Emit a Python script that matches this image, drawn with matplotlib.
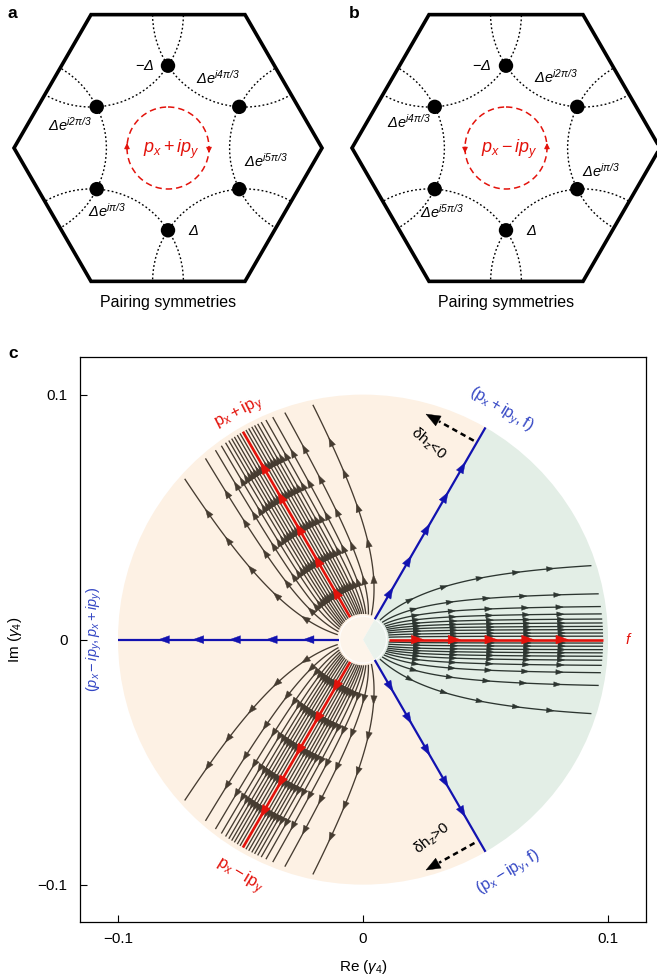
import numpy as np
import matplotlib
matplotlib.use('Agg')
import matplotlib.pyplot as plt
from matplotlib.patches import Wedge, Circle, Polygon
from matplotlib.collections import PolyCollection, LineCollection

plt.rcParams['font.family'] = ['Liberation Sans', 'DejaVu Sans']
plt.rcParams['mathtext.fontset'] = 'custom'
plt.rcParams['mathtext.rm'] = 'Liberation Sans'
plt.rcParams['mathtext.it'] = 'Liberation Sans:italic'
plt.rcParams['mathtext.bf'] = 'Liberation Sans:bold'
plt.rcParams['mathtext.sf'] = 'Liberation Sans:italic'

# ---------------- data ----------------
# panels a/b : pairing phases at the six Fermi-pocket crossings (angles in degrees)
DOT_ANGLES = [90, 30, -30, -90, -150, 150]
LABELS_A = [r'$-\mathsf{\Delta}$', r'$\mathsf{\Delta e^{i4\pi/3}}$', r'$\mathsf{\Delta e^{i5\pi/3}}$',
            r'$\mathsf{\Delta}$', r'$\mathsf{\Delta e^{i\pi/3}}$', r'$\mathsf{\Delta e^{i2\pi/3}}$']
LABELS_B = [r'$-\mathsf{\Delta}$', r'$\mathsf{\Delta e^{i2\pi/3}}$', r'$\mathsf{\Delta e^{i\pi/3}}$',
            r'$\mathsf{\Delta}$', r'$\mathsf{\Delta e^{i5\pi/3}}$', r'$\mathsf{\Delta e^{i4\pi/3}}$']
CHIRAL_A = r'$p_x + ip_y$'
CHIRAL_B = r'$p_x - ip_y$'

# panel c : RG flow of gamma_4
B_FLOW = 200.0                    # strength of the angular locking in the flow
R_IN, R_OUT, R_DISK = 0.0105, 0.098, 0.1
END_OFFSETS = [0.0014, 0.0027, 0.0041, 0.0054, 0.0068, 0.0084, 0.0105, 0.0135, 0.0187, 0.0302]
ATTRACTIVE_DEG = [0, 120, 240]     # red fixed rays
REPULSIVE_DEG = [60, 180, 300]     # blue separatrices
ARROW_R = [0.022, 0.037, 0.052, 0.067, 0.081]
XTICKS = [-0.1, 0, 0.1]
XTICKLABELS = ['\u22120.1', '0', '0.1']

# ---------------- style ----------------
RED = '#e3120b'
BLUE = '#1212b0'
BLUE_TXT = '#3346c4'
ORANGE_BG = '#fdf1e4'
GREEN_BG = '#e3eee6'
LINE_OR = '#463c31'
LINE_GR = '#2c3530'

fig = plt.figure(figsize=(6.57, 9.77), dpi=100)

# ---------------- panels a and b (pixel coordinates) ----------------
axo = fig.add_axes([0, 0, 1, 1])
axo.set_xlim(0, 657)
axo.set_ylim(977, 0)
axo.axis('off')

RH = 154.0
RF = 0.6 * RH
HEX_CENTERS = [(168.0, 148.0), (506.0, 148.0)]
LABEL_OFFS_A = [(-14, 0, 'right'), (-21, -29, 'center'), (27, -28, 'center'),
                (20, 1, 'left'), (10, 22, 'center'), (-27, 18, 'center')]
LABEL_OFFS_B = [(-15, 0, 'right'), (-21, -30, 'center'), (24, -18, 'center'),
                (20, 1, 'left'), (7, 23, 'center'), (-26, 15, 'center')]

for idx, (cx, cy) in enumerate(HEX_CENTERS):
    verts = [(cx + RH * np.cos(np.radians(a)), cy - RH * np.sin(np.radians(a))) for a in range(0, 360, 60)]
    hexp = Polygon(verts, closed=True, fill=False, lw=2.6, ec='black', zorder=4, joinstyle='miter')
    axo.add_patch(hexp)
    for v in verts:
        c = Circle(v, RF, fill=False, ls=(0, (1.3, 1.7)), lw=1.0, ec='black', zorder=2)
        axo.add_patch(c)
        c.set_clip_path(hexp)
    apo = RH * np.sqrt(3) / 2
    rd = apo - np.sqrt(RF ** 2 - (RH / 2) ** 2)
    labels = LABELS_A if idx == 0 else LABELS_B
    offs = LABEL_OFFS_A if idx == 0 else LABEL_OFFS_B
    for ang, lab, (dx, dy, ha) in zip(DOT_ANGLES, labels, offs):
        px = cx + rd * np.cos(np.radians(ang))
        py = cy - rd * np.sin(np.radians(ang))
        axo.add_patch(Circle((px, py), 7.2, fc='black', ec='none', zorder=5))
        axo.text(px + dx, py + dy, lab, ha=ha, va='center', fontsize=10.5)
    # chiral circle
    rc = 41
    axo.add_patch(Circle((cx, cy), rc, fill=False, ls=(0, (4.2, 2.6)), lw=1.1, ec=RED, zorder=3))
    up = -1 if idx == 0 else 1
    for sx, sgn in [(-1, up), (1, -up)]:
        axo.annotate('', xy=(cx + sx * rc, cy + sgn * 5), xytext=(cx + sx * rc, cy - sgn * 1),
                     arrowprops=dict(arrowstyle='-|>', color=RED, lw=0.8, mutation_scale=8,
                                     shrinkA=0, shrinkB=0))
    axo.text(cx + 3, cy + 1, CHIRAL_A if idx == 0 else CHIRAL_B, color=RED, fontsize=13,
             ha='center', va='center')
    axo.text(cx, 302, 'Pairing symmetries', ha='center', va='center', fontsize=11.5)

axo.text(8, 13, 'a', fontsize=12.5, fontweight='bold', va='center')
axo.text(349, 13, 'b', fontsize=12.5, fontweight='bold', va='center')
axo.text(8, 353, 'c', fontsize=12.5, fontweight='bold', va='center')

# ---------------- panel c ----------------
ax = fig.add_axes([80 / 657, 55 / 977, 566 / 657, 565 / 977])
ax.set_xlim(-0.1155, 0.1155)
ax.set_ylim(-0.1152, 0.1153)
ax.set_aspect('equal', adjustable='box')

ax.add_patch(Wedge((0, 0), R_DISK, 60, 300, fc=ORANGE_BG, ec='none', zorder=0))
ax.add_patch(Wedge((0, 0), R_DISK, -60, 60, fc=GREEN_BG, ec='none', zorder=0))
ax.add_patch(Circle((0, 0), 0.0096, fc='white', alpha=0.25, ec='none', zorder=1))
ax.add_patch(Circle((0, 0), 0.0096, fill=False, ec='white', lw=1.0, alpha=0.8, zorder=1))


def phi_rate(r, phi):
    return -(B_FLOW / 3.0) * np.sin(3 * phi) / (1.0 + B_FLOW * r)


offs = np.array([-d for d in END_OFFSETS] + list(END_OFFSETS))
rs = np.linspace(R_OUT, R_IN, 900)
phi = np.arcsin(offs / R_OUT)
PH = np.empty((len(rs), len(offs)))
PH[0] = phi
for i in range(len(rs) - 1):
    r = rs[i]
    h = rs[i + 1] - r
    k1 = phi_rate(r, phi)
    k2 = phi_rate(r + h / 2, phi + h / 2 * k1)
    k3 = phi_rate(r + h / 2, phi + h / 2 * k2)
    k4 = phi_rate(r + h, phi + h * k3)
    phi = phi + h / 6 * (k1 + 2 * k2 + 2 * k3 + k4)
    PH[i + 1] = phi
rs_c = rs[::-1]
PH = PH[::-1]


def rot(xy, deg):
    a = np.radians(deg)
    R = np.array([[np.cos(a), -np.sin(a)], [np.sin(a), np.cos(a)]])
    return xy @ R.T


def head(p, t, L, W):
    n = np.array([-t[1], t[0]])
    tip = p + t * L * 0.55
    base = p - t * L * 0.45
    return [tip, base + n * W, base - n * W]


def arrows_on(xy, dists_from_end, L, W):
    seg = np.hypot(*np.diff(xy, axis=0).T)
    cum = np.concatenate([[0], np.cumsum(seg)])
    total = cum[-1]
    out = []
    for de in dists_from_end:
        s = total - de
        if s < 0.006:
            continue
        k = np.searchsorted(cum, s)
        k = min(max(k, 1), len(cum) - 1)
        f = (s - cum[k - 1]) / (cum[k] - cum[k - 1])
        p = xy[k - 1] + f * (xy[k] - xy[k - 1])
        t = xy[k] - xy[k - 1]
        t = t / np.hypot(*t)
        out.append(head(p, t, L, W))
    return out


dists = [R_OUT - r for r in ARROW_R]
for base_deg in ATTRACTIVE_DEG:
    col = LINE_GR if base_deg == 0 else LINE_OR
    L, W = (0.0030, 0.0010) if base_deg == 0 else (0.0035, 0.0013)
    segs, heads = [], []
    for j in range(len(offs)):
        xy = np.column_stack([rs_c * np.cos(PH[:, j]), rs_c * np.sin(PH[:, j])])
        xy = rot(xy, base_deg)
        segs.append(xy)
        heads += arrows_on(xy, dists, L, W)
    ax.add_collection(LineCollection(segs, colors=col, linewidths=0.95, zorder=2))
    ax.add_collection(PolyCollection(heads, facecolors=col, edgecolors=col, linewidths=0.3, zorder=2.5))
    # red attractive ray
    rr = np.array([R_IN, R_OUT])
    xy = np.column_stack([rr * np.cos(np.radians(base_deg)), rr * np.sin(np.radians(base_deg))])
    ax.plot(xy[:, 0], xy[:, 1], color=RED, lw=1.9, zorder=3, solid_capstyle='butt')
    t = np.array([np.cos(np.radians(base_deg)), np.sin(np.radians(base_deg))])
    rh = [head(t * r, t, 0.0050, 0.0018) for r in ARROW_R]
    ax.add_collection(PolyCollection(rh, facecolors=RED, edgecolors=RED, linewidths=0.3, zorder=3.5))

for base_deg in REPULSIVE_DEG:
    t = np.array([np.cos(np.radians(base_deg)), np.sin(np.radians(base_deg))])
    ax.plot([0.0096 * t[0], R_DISK * t[0]], [0.0096 * t[1], R_DISK * t[1]], color=BLUE, lw=1.6,
            zorder=3, solid_capstyle='butt')
    bh = [head(t * r, t, 0.0044, 0.0016) for r in ARROW_R]
    ax.add_collection(PolyCollection(bh, facecolors=BLUE, edgecolors=BLUE, linewidths=0.3, zorder=3.5))

# labels in panel c
ax.text(-0.0505, 0.0925, r'$\mathrm{p_x + ip_y}$', color=RED, fontsize=12, rotation=27,
        ha='center', va='center')
ax.text(-0.0505, -0.0965, r'$\mathrm{p_x - ip_y}$', color=RED, fontsize=12, rotation=-31,
        ha='center', va='center')
ax.text(0.0565, 0.0940, r'$(\mathrm{p_x + ip_y, f})$', color=BLUE_TXT, fontsize=11.5, rotation=-31,
        ha='center', va='center')
ax.text(0.0595, -0.0950, r'$(\mathrm{p_x - ip_y, f})$', color=BLUE_TXT, fontsize=11.5, rotation=31,
        ha='center', va='center')
ax.text(-0.1095, 0.0, r'$(p_x - ip_y, p_x + ip_y)$', color=BLUE_TXT, fontsize=10.5, rotation=90,
        ha='center', va='center')
ax.text(0.1085, 0.0, r'$f$', color=RED, fontsize=11, ha='center', va='center')

ax.text(0.0268, 0.0800, r'$\mathrm{\delta h_z}$<0', fontsize=11, rotation=-40, ha='center', va='center')
ax.text(0.0282, -0.0812, r'$\mathrm{\delta h_z}$>0', fontsize=11, rotation=38, ha='center', va='center')
for (x0, y0, x1, y1) in [(0.0452, 0.0812, 0.0285, 0.0905), (0.0455, -0.0830, 0.0285, -0.0925)]:
    ax.plot([x0, x1 + 0.15 * (x0 - x1)], [y0, y1 + 0.15 * (y0 - y1)], color='black', lw=1.8,
            ls=(0, (2.2, 1.6)), zorder=4)
    d = np.array([x1 - x0, y1 - y0])
    d = d / np.hypot(*d)
    ax.add_patch(Polygon(head(np.array([x1, y1]), d, 0.0058, 0.0023), closed=True, fc='black',
                         ec='black', lw=0.3, zorder=4))

ax.set_xticks(XTICKS)
ax.set_xticklabels(XTICKLABELS)
ax.set_yticks(XTICKS)
ax.set_yticklabels(XTICKLABELS)
ax.tick_params(direction='in', length=5, width=0.8, labelsize=11)
ax.tick_params(axis='y', pad=9)
ax.tick_params(axis='x', pad=7)
for s in ax.spines.values():
    s.set_linewidth(0.9)
ax.set_xlabel(r'Re ($\gamma_4$)', fontsize=11, labelpad=9)
ax.set_ylabel(r'Im ($\gamma_4$)', fontsize=11, labelpad=10)

fig.savefig('out.png', dpi=100)
